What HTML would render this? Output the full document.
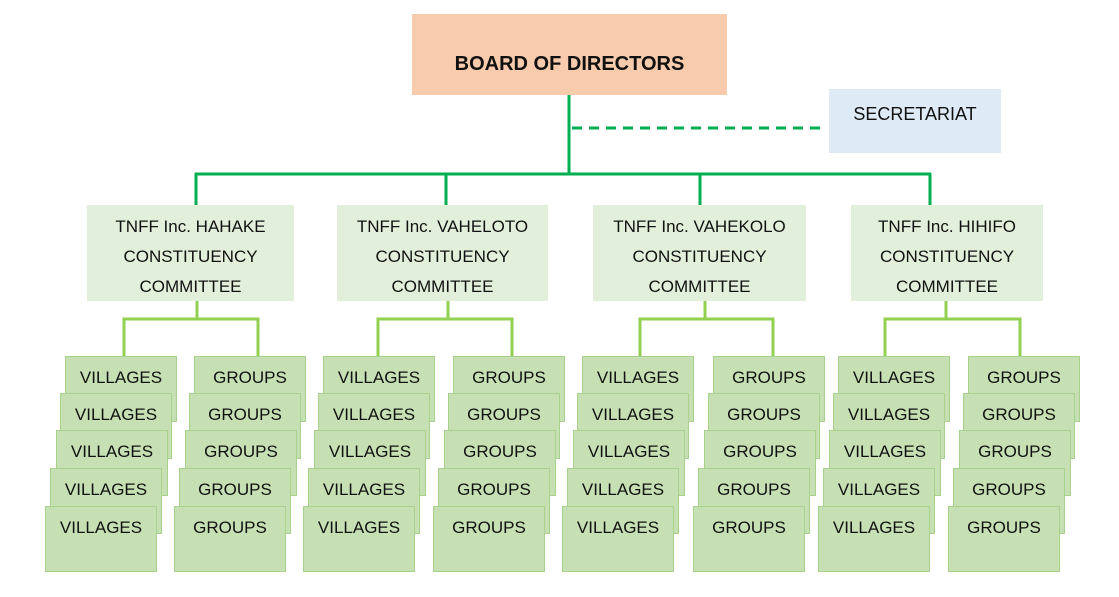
<!DOCTYPE html><html><head><style>
body{margin:0;width:1119px;height:597px;background:#fff;position:relative;overflow:hidden;font-family:"Liberation Sans",sans-serif;color:#111}
.b{position:absolute;box-sizing:border-box;text-align:center}
.s{background:#c6e0b4;border:1px solid #a9d18e;width:112px;height:66px;font-size:17px;padding-top:11px}
.c{background:#e2efda;font-size:17px;line-height:30px;padding-top:7px}
</style></head><body>
<svg width="1119" height="597" style="position:absolute;left:0;top:0">
<g stroke="#00b050" stroke-width="3" fill="none">
<line x1="569" y1="95" x2="569" y2="174"/>
<line x1="195" y1="174" x2="931" y2="174"/>
<line x1="196" y1="173" x2="196" y2="205"/><line x1="446" y1="173" x2="446" y2="205"/><line x1="700" y1="173" x2="700" y2="205"/><line x1="930" y1="173" x2="930" y2="205"/>
<line x1="572" y1="128" x2="823" y2="128" stroke-dasharray="10,7"/>
</g>
<g stroke="#92d050" stroke-width="3" fill="none">
<path d="M197 301V319M124 356V319H258V356"/>
<path d="M448 301V319M378 356V319H512V356"/>
<path d="M705 301V319M640 356V319H773V356"/>
<path d="M946 301V319M885 356V319H1020V356"/>
</g></svg>
<div class="b" style="left:412px;top:14px;width:315px;height:81px;background:#f8cbad;font-weight:bold;font-size:20px;line-height:24px;padding-top:38px">BOARD OF DIRECTORS</div>
<div class="b" style="left:829px;top:89px;width:172px;height:64px;background:#deebf7;font-size:18px;line-height:50px">SECRETARIAT</div>
<div class="b c" style="left:87px;top:205px;width:207px;height:96px">TNFF Inc. HAHAKE<br>CONSTITUENCY<br>COMMITTEE</div>
<div class="b c" style="left:337px;top:205px;width:211px;height:96px">TNFF Inc. VAHELOTO<br>CONSTITUENCY<br>COMMITTEE</div>
<div class="b c" style="left:593px;top:205px;width:213px;height:96px">TNFF Inc. VAHEKOLO<br>CONSTITUENCY<br>COMMITTEE</div>
<div class="b c" style="left:851px;top:205px;width:192px;height:96px">TNFF Inc. HIHIFO<br>CONSTITUENCY<br>COMMITTEE</div>
<div id="st"></div>
<script>
var xs=[[65,'VILLAGES'],[194,'GROUPS'],[323,'VILLAGES'],[453,'GROUPS'],[582,'VILLAGES'],[713,'GROUPS'],[838,'VILLAGES'],[968,'GROUPS']];
var ys=[356,393,430,468,506],off=[0,-5,-9,-15,-20],h='';
xs.forEach(function(a){for(var i=0;i<5;i++)h+='<div class="b s" style="left:'+(a[0]+off[i])+'px;top:'+ys[i]+'px">'+a[1]+'</div>';});
document.getElementById('st').innerHTML=h;
</script>
</body></html>
